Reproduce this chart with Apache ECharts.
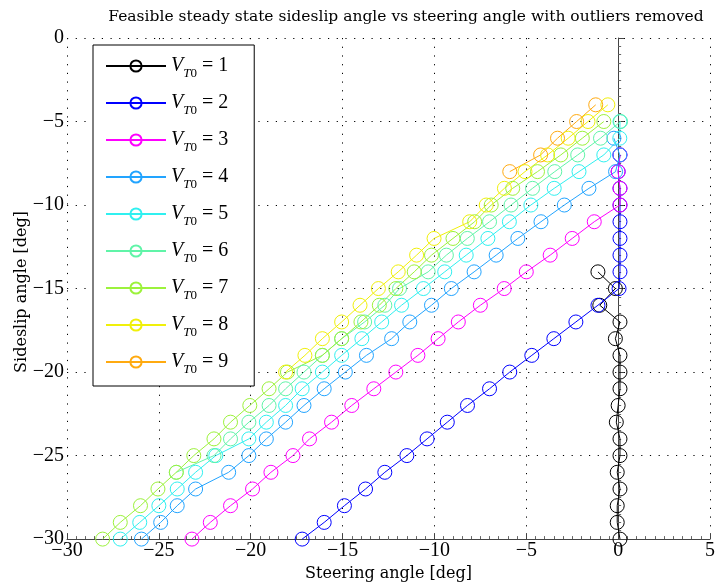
<!DOCTYPE html>
<html>
<head>
<meta charset="utf-8">
<script src="https://cdn.jsdelivr.net/npm/echarts@6/dist/echarts.min.js"></script>
<style>html,body{margin:0;padding:0;background:#fff}#c{width:718px;height:587px}</style>
</head>
<body>
<div id="c"></div>
<script>
// ---- data ----
const speeds = [1, 2, 3, 4, 5, 6, 7, 8, 9];
const colors = ['#000000', '#0000ff', '#ff00ff', '#22a4ff', '#30f0f0', '#60f4a8', '#9cf23c', '#f0f00a', '#ffaa10'];

const slip1 = [-30,-29,-28,-27,-26,-25,-24,-23,-22,-21,-20,-19,-18,-17,-16,-15,-14];
const steer1 = [0.1,-0.05,-0.05,0.1,-0.05,0.1,0.1,-0.1,0,0.1,0.1,0.1,-0.15,0.1,-1.0,-0.15,-1.1];

const slip2 = [-30,-29,-28,-27,-26,-25,-24,-23,-22,-21,-20,-19,-18,-17,-16,-15,-14,-13,-12,-11,-10,-9,-8,-7];
const steer2 = [-17.2,-16.0,-14.9,-13.75,-12.7,-11.5,-10.4,-9.3,-8.2,-7.0,-5.9,-4.7,-3.5,-2.3,-1.1,0.05,0.1,0.1,0.1,0.1,0.1,0.1,0.0,0.1];

const slip3 = [-30,-29,-28,-27,-26,-25,-24,-23,-22,-21,-20,-19,-18,-17,-16,-15,-14,-13,-12,-11,-10,-9,-8,-7];
const steer3 = [-23.2,-22.2,-21.1,-19.9,-18.9,-17.7,-16.8,-15.6,-14.5,-13.3,-12.1,-10.9,-9.8,-8.7,-7.5,-6.2,-5.0,-3.7,-2.5,-1.3,0.1,0.1,0.0,0.1];

const slip4 = [-30,-29,-28,-27,-26,-25,-24,-23,-22,-21,-20,-19,-18,-17,-16,-15,-14,-13,-12,-11,-10,-9,-8,-7,-6];
const steer4 = [-25.95,-24.9,-24.0,-23.0,-21.2,-20.1,-19.15,-18.1,-17.1,-16.0,-14.85,-13.7,-12.33,-11.34,-10.16,-9.08,-7.84,-6.64,-5.46,-4.2,-2.93,-1.59,-0.14,0.09,-0.23];

const slip5 = [-30,-29,-28,-27,-26,-25,-24,-23,-22,-21,-20,-19,-18,-17,-16,-15,-14,-13,-12,-11,-10,-9,-8,-7,-6,-5];
const steer5 = [-27.1,-26.04,-25.0,-24.0,-23.0,-21.9,-20.1,-19.15,-18.1,-17.2,-16.1,-15.05,-13.95,-12.87,-11.79,-10.6,-9.44,-8.27,-7.09,-5.92,-4.75,-3.48,-2.13,-0.78,0.09,0.1];

const slip6 = [-26,-25,-24,-23,-22,-21,-20,-19,-18,-17,-16,-15,-14,-13,-12,-11,-10,-9,-8,-7,-6,-5];
const steer6 = [-24.05,-22.0,-21.1,-20.1,-19.0,-18.1,-17.1,-16.1,-15.05,-13.8,-12.7,-11.9,-10.34,-9.35,-8.21,-7.0,-5.83,-4.66,-3.45,-2.2,-0.96,0.13];

const slip7 = [-30,-29,-28,-27,-26,-25,-24,-23,-22,-21,-20,-19,-18,-17,-16,-15,-14,-13,-12,-11,-10,-9,-8,-7,-6,-5];
const steer7 = [-28.06,-27.1,-26.0,-25.05,-24.05,-23.1,-22.0,-21.1,-20.05,-19.0,-18.0,-16.1,-15.05,-14.0,-13.0,-12.1,-11.1,-10.16,-8.99,-7.81,-6.91,-5.74,-4.39,-3.12,-1.95,-0.78];

const slip8 = [-20,-19,-18,-17,-16,-15,-14,-13,-12,-11,-10,-9,-8,-7,-6,-5,-4];
const steer8 = [-18.1,-17.05,-16.1,-15.05,-14.05,-13.05,-11.97,-10.97,-10.02,-8.08,-7.18,-6.19,-5.07,-3.84,-2.72,-1.64,-0.56];

const slip9 = [-8,-7,-6,-5,-4];
const steer9 = [-5.9,-4.22,-3.3,-2.26,-1.22];

const steers = [steer1, steer2, steer3, steer4, steer5, steer6, steer7, steer8, steer9];
const slips = [slip1, slip2, slip3, slip4, slip5, slip6, slip7, slip8, slip9];

const titleText = 'Feasible steady state sideslip angle vs steering angle with outliers removed';
const xName = 'Steering angle [deg]';
const yName = 'Sideslip angle [deg]';

// ---- chart ----
const serif = '"Liberation Serif", "DejaVu Serif", serif';
const wideSerif = '"DejaVu Serif", "Liberation Serif", serif';
const fmt = v => String(v).replace('-', '\u2212');

const series = speeds.map((v, i) => ({
  name: 'V' + v,
  type: 'line',
  data: steers[i].map((x, j) => [x, slips[i][j]]),
  symbol: 'circle',
  symbolSize: 14,
  showAllSymbol: true,
  clip: false,
  color: colors[i],
  lineStyle: { width: 1, color: colors[i] },
  itemStyle: { color: 'rgba(255,255,255,0)', borderColor: colors[i], borderWidth: 1 },
  emphasis: { disabled: true }
}));

const chart = echarts.init(document.getElementById('c'), null, { renderer: 'canvas' });
chart.setOption({
  animation: false,
  backgroundColor: '#fff',
  title: {
    text: titleText,
    left: 401, top: 4, textAlign: 'center',
    textStyle: { fontFamily: wideSerif, fontSize: 15.5, fontWeight: 'normal', color: '#000' }
  },
  graphic: [{
    type: 'text',
    x: 22, y: 292, rotation: Math.PI / 2,
    style: { text: yName, fontFamily: wideSerif, fontSize: 16, fill: '#000', align: 'center', verticalAlign: 'middle' }
  }],
  grid: { left: 67, right: 5, top: 38, bottom: 38 },
  xAxis: {
    type: 'value', min: -30, max: 5, interval: 5,
    name: xName, nameLocation: 'middle', nameGap: 16,
    nameTextStyle: { fontFamily: wideSerif, fontSize: 16, color: '#000' },
    axisLine: { onZero: false, lineStyle: { color: '#444', width: 1 } },
    axisTick: { inside: true, length: 6, lineStyle: { color: '#444' } },
    minorTick: { show: true, splitNumber: 10, length: 3, lineStyle: { color: '#666' } },
    axisLabel: { formatter: fmt, margin: 2, fontFamily: serif, fontSize: 20, color: '#000' },
    splitLine: { show: true, lineStyle: { color: '#000', type: [1.2, 7.5], width: 1 } }
  },
  yAxis: {
    type: 'value', min: -30, max: 0, interval: 5,
    axisLine: { lineStyle: { color: '#444', width: 1 } },
    axisTick: { inside: true, length: 6, lineStyle: { color: '#444' } },
    minorTick: { show: true, splitNumber: 10, length: 3, lineStyle: { color: '#666' } },
    axisLabel: { formatter: fmt, margin: 3, fontFamily: serif, fontSize: 20, color: '#000' },
    splitLine: { show: true, lineStyle: { color: '#000', type: [1.2, 7.5], width: 1 } }
  },
  legend: {
    orient: 'vertical', left: 93, top: 45,
    padding: [11, 26, 10, 12],
    itemWidth: 60, itemHeight: 14, itemGap: 13,
    borderColor: '#000', borderWidth: 1, backgroundColor: '#fff',
    selectedMode: false,
    data: speeds.map(v => 'V' + v),
    formatter: name => '{v|V}{t|T}{z|0}{n| = ' + name.slice(1) + '}',
    textStyle: {
      fontFamily: serif, fontSize: 19, color: '#000',
      rich: {
        v: { fontFamily: serif, fontSize: 20, fontStyle: 'italic', lineHeight: 22, color: '#000' },
        t: { fontFamily: serif, fontSize: 13, fontStyle: 'italic', verticalAlign: 'bottom', lineHeight: 13, color: '#000', padding: [0, 0, -3, 0] },
        z: { fontFamily: serif, fontSize: 13, verticalAlign: 'bottom', lineHeight: 13, color: '#000', padding: [0, 0, -3, 0] },
        n: { fontFamily: serif, fontSize: 20, lineHeight: 22, color: '#000' }
      }
    }
  },
  series: series
});
</script>
</body>
</html>
